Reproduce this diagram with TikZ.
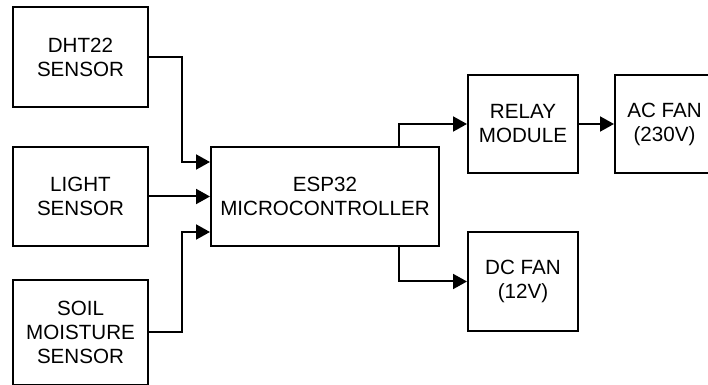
\documentclass[tikz,border=0pt]{standalone}
\usepackage{fontspec}
\setmainfont{Liberation Sans}
\usetikzlibrary{arrows.meta}

\tikzset{
  blk/.style={draw, line width=1pt, align=center, inner sep=0pt,
    font=\fontsize{10.3}{12}\selectfont},
  wire/.style={line width=1pt, -{Triangle[length=7pt,width=7.5pt]}}
}

\begin{document}
\begin{tikzpicture}[x=.5pt, y=-.5pt]
    \useasboundingbox (0, 0) rectangle (708, 385);

    \node[blk, minimum width=67.5pt, minimum height=50pt] (dht) at (80.5, 57) {DHT22\\SENSOR};
    \node[blk, minimum width=67.5pt, minimum height=49.5pt] (light) at (80.5, 196.5) {LIGHT\\SENSOR};
    \node[blk, minimum width=67.5pt, minimum height=52.5pt] (soil) at (80.5, 332.5) {SOIL\\MOISTURE\\SENSOR};

    \node[blk, minimum width=114pt, minimum height=49.5pt] (esp) at (325, 196.5) {ESP32\\MICROCONTROLLER};

    \node[blk, minimum width=55pt, minimum height=49pt] (relay) at (523, 124) {RELAY\\MODULE};
    \node[blk, minimum width=49.5pt, minimum height=49pt] (acfan) at (664.5, 124) {AC FAN\\(230V)};
    \node[blk, minimum width=55pt, minimum height=49.5pt] (dcfan) at (523, 281.5) {DC FAN\\(12V)};

    \draw[wire] (dht.east) -- ++(33, 0) |- ([yshift=17.25pt]esp.west);
    \draw[wire] (light.east) -- (esp.west);
    \draw[wire] (soil.east) -- ++(33, 0) |- ([yshift=-17.75pt]esp.west);

    \draw[wire] ([xshift=-20.5pt]esp.north east) |- (relay.west);
    \draw[wire] ([xshift=-20.5pt]esp.south east) |- (dcfan.west);
    \draw[wire] (relay.east) -- (acfan.west);
\end{tikzpicture}
\end{document}
